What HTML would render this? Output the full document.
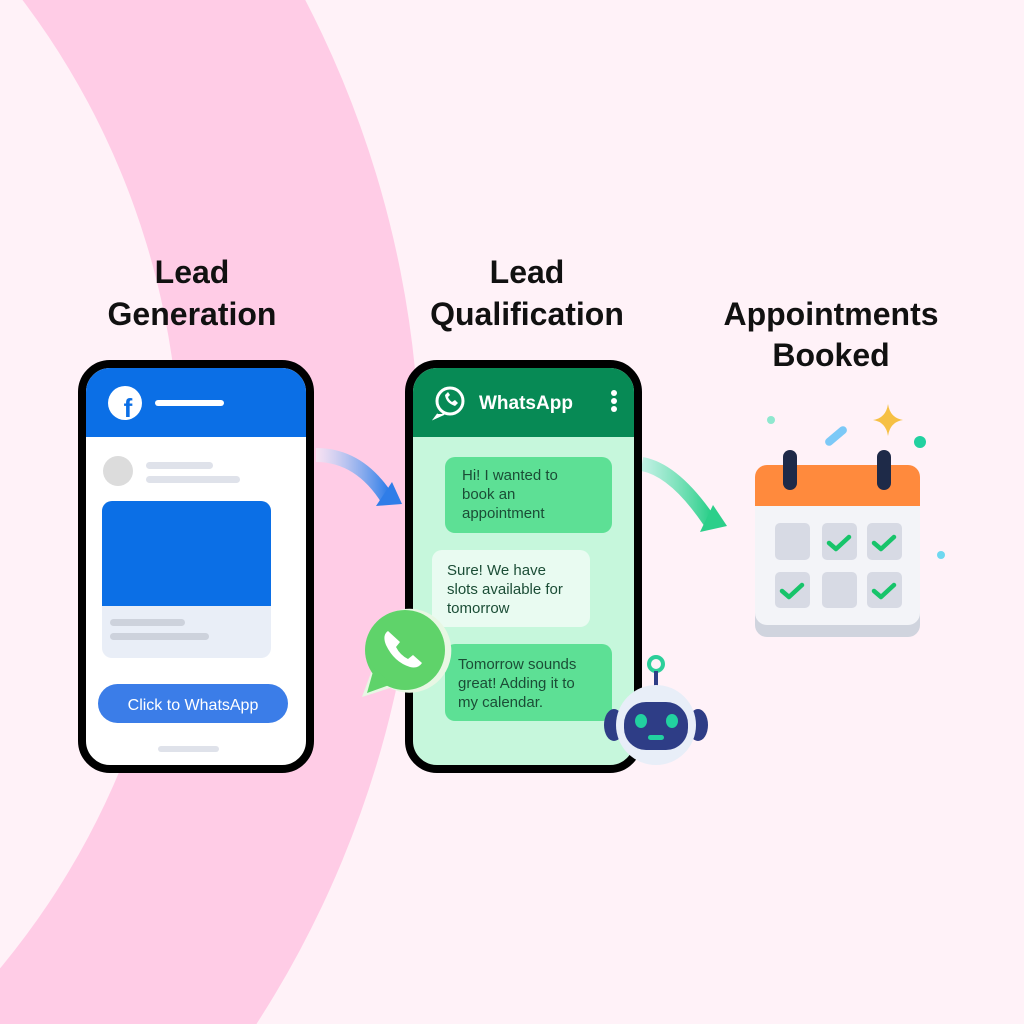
<!DOCTYPE html>
<html><head><meta charset="utf-8"><style>
html,body{margin:0;padding:0;width:1024px;height:1024px;overflow:hidden;background:#fff2f8}
svg{display:block;overflow:hidden}
text{font-family:"Liberation Sans",sans-serif}
</style></head><body>
<svg width="1024" height="1024" viewBox="0 0 1024 1024" xmlns="http://www.w3.org/2000/svg">
<defs>
<linearGradient id="ga" x1="0" x2="1" y1="0" y2="0"><stop offset="0" stop-color="#f4f0fa" stop-opacity="0.6"/><stop offset="1" stop-color="#2f7de8"/></linearGradient>
<linearGradient id="gb" x1="0" x2="1" y1="0" y2="0"><stop offset="0" stop-color="#a8f0dc" stop-opacity="0.7"/><stop offset="1" stop-color="#2ccf8a"/></linearGradient>
<clipPath id="cp"><rect width="1024" height="1024"/></clipPath>
</defs>
<rect width="1024" height="1024" fill="#fff2f8"/>
<g clip-path="url(#cp)">
<path fill="#ffcce6" fill-rule="evenodd" d="M-600 -550 A1020 1020 0 1 1 -600 1490 A1020 1020 0 1 1 -600 -550 Z M-600 -310 A780 780 0 1 0 -600 1250 A780 780 0 1 0 -600 -310 Z"/>
</g>

<g font-weight="bold" font-size="32" fill="#111" text-anchor="middle">
<text x="192" y="283">Lead</text><text x="192" y="325">Generation</text>
<text x="527" y="283">Lead</text><text x="527" y="325">Qualification</text>
<text x="831" y="325">Appointments</text><text x="831" y="366">Booked</text>
</g>

<!-- left phone -->
<rect x="82" y="364" width="228" height="405" rx="28" fill="#fff" stroke="#000" stroke-width="8"/>
<path d="M86 437 V392 a24 24 0 0 1 24 -24 H282 a24 24 0 0 1 24 24 V437 Z" fill="#0b6fe6"/>
<circle cx="125" cy="403" r="17" fill="#fff"/>
<text x="128" y="417" font-size="26" font-weight="bold" fill="#0b6fe6" text-anchor="middle">f</text>
<rect x="155" y="400" width="69" height="6" rx="3" fill="#fff"/>
<circle cx="118" cy="471" r="15" fill="#dcdcdc"/>
<rect x="146" y="462" width="67" height="7" rx="3.5" fill="#dfe2ea"/>
<rect x="146" y="476" width="94" height="7" rx="3.5" fill="#dfe2ea"/>
<rect x="102" y="501" width="169" height="157" rx="10" fill="#e9eef7"/>
<path d="M102 606 V511 a10 10 0 0 1 10 -10 H261 a10 10 0 0 1 10 10 V606 Z" fill="#0b6fe6"/>
<rect x="110" y="619" width="75" height="7" rx="3.5" fill="#cdd2dc"/>
<rect x="110" y="633" width="99" height="7" rx="3.5" fill="#cdd2dc"/>
<rect x="98" y="684" width="190" height="39" rx="19.5" fill="#3b7de8"/>
<text x="193" y="710" font-size="16" fill="#fff" text-anchor="middle">Click to WhatsApp</text>
<rect x="158" y="746" width="61" height="6" rx="3" fill="#dfe2ea"/>

<!-- arrows -->
<path d="M316 455 Q360 455 388 500" stroke="url(#ga)" stroke-width="14" fill="none"/>
<polygon points="376,506 402,504 392,482" fill="#2f7de8"/>
<path d="M642 464 Q675 470 710 522" stroke="url(#gb)" stroke-width="14" fill="none"/>
<polygon points="700,532 727,526 713,505" fill="#2ccf8a"/>

<!-- middle phone -->
<rect x="409" y="364" width="229" height="405" rx="28" fill="#c6f7dc" stroke="#000" stroke-width="8"/>
<path d="M413 437 V392 a24 24 0 0 1 24 -24 H610 a24 24 0 0 1 24 24 V437 Z" fill="#078a55"/>
<circle cx="450" cy="401" r="13" fill="none" stroke="#fff" stroke-width="3"/>
<path d="M438 414 L435 418 L444 414" fill="#fff" stroke="#fff" stroke-width="2"/>
<path d="M445 395 q1 8 10 11 l3 -3 -3 -3 -3 2 q-3 -2 -4 -5 l2 -2 -2 -3 z" fill="#fff"/>
<text x="479" y="409" font-size="19" font-weight="bold" fill="#fff">WhatsApp</text>
<circle cx="614" cy="393" r="3" fill="#fff"/><circle cx="614" cy="401" r="3" fill="#fff"/><circle cx="614" cy="409" r="3" fill="#fff"/>
<rect x="445" y="457" width="167" height="76" rx="10" fill="#5de095"/>
<g font-size="15" fill="#1b4d36"><text x="462" y="480">Hi! I wanted to</text><text x="462" y="499">book an</text><text x="462" y="518">appointment</text></g>
<rect x="432" y="550" width="158" height="77" rx="10" fill="#e9fbf1"/>
<g font-size="15" fill="#1b4d36"><text x="447" y="575">Sure! We have</text><text x="447" y="594">slots available for</text><text x="447" y="613">tomorrow</text></g>
<rect x="445" y="644" width="167" height="77" rx="10" fill="#5de095"/>
<g font-size="15" fill="#1b4d36"><text x="458" y="669">Tomorrow sounds</text><text x="458" y="688">great! Adding it to</text><text x="458" y="707">my calendar.</text></g>

<!-- WA badge -->
<path d="M362 697 L372 670 A42 42 0 1 1 390 688 Z" fill="#e8f7e4"/>
<circle cx="405" cy="650" r="40" fill="#5fd36a"/>
<path d="M367 693 L374 668 L392 684 Z" fill="#5fd36a"/>
<path d="M388 631 q-6 4 -2 14 q8 17 24 22 q8 2 12 -4 l-9 -8 -5 4 q-8 -4 -12 -12 l4 -5 z" fill="#fff"/>

<!-- robot -->
<circle cx="656" cy="664" r="7" fill="none" stroke="#2ccf9a" stroke-width="4"/>
<rect x="654" y="671" width="4" height="15" fill="#2e3d86"/>
<ellipse cx="614" cy="725" rx="10" ry="16" fill="#2e3d86"/>
<ellipse cx="698" cy="725" rx="10" ry="16" fill="#2e3d86"/>
<circle cx="656" cy="725" r="40" fill="#e8eef8"/>
<rect x="624" y="702" width="64" height="48" rx="22" fill="#2e3d86"/>
<ellipse cx="641" cy="721" rx="6" ry="7" fill="#22d1a0"/>
<ellipse cx="672" cy="721" rx="6" ry="7" fill="#22d1a0"/>
<rect x="648" y="735" width="16" height="5" rx="2.5" fill="#22d1a0"/>

<!-- calendar -->
<rect x="755" y="475" width="165" height="162" rx="12" fill="#d0d4de"/>
<rect x="755" y="465" width="165" height="160" rx="12" fill="#f3f4f8"/>
<path d="M755 506 V477 a12 12 0 0 1 12 -12 H908 a12 12 0 0 1 12 12 V506 Z" fill="#ff8a3d"/>
<rect x="783" y="450" width="14" height="40" rx="7" fill="#1e2a48"/>
<rect x="877" y="450" width="14" height="40" rx="7" fill="#1e2a48"/>
<g fill="#d7dae4">
<rect x="775" y="523" width="35" height="37" rx="5"/><rect x="822" y="523" width="35" height="37" rx="5"/><rect x="867" y="523" width="35" height="37" rx="5"/>
<rect x="775" y="572" width="35" height="36" rx="5"/><rect x="822" y="572" width="35" height="36" rx="5"/><rect x="867" y="572" width="35" height="36" rx="5"/>
</g>
<g fill="none" stroke="#17c46a" stroke-width="4.5" stroke-linecap="round" stroke-linejoin="round">
<path d="M829 543 l7 6 l13 -12"/><path d="M874 543 l7 6 l13 -12"/>
<path d="M782 591 l7 6 l13 -12"/><path d="M874 591 l7 6 l13 -12"/>
</g>
<circle cx="771" cy="420" r="4" fill="#8fe8cf"/>
<rect x="823" y="432" width="26" height="8" rx="4" fill="#7cc9f7" transform="rotate(-40 836 436)"/>
<path d="M888 404 Q890 418 903 420 Q890 422 888 436 Q886 422 873 420 Q886 418 888 404 Z" fill="#f6c044"/>
<circle cx="920" cy="442" r="6" fill="#22d1a0"/>
<circle cx="941" cy="555" r="4" fill="#6fd8f0"/>
</svg>
</body></html>
